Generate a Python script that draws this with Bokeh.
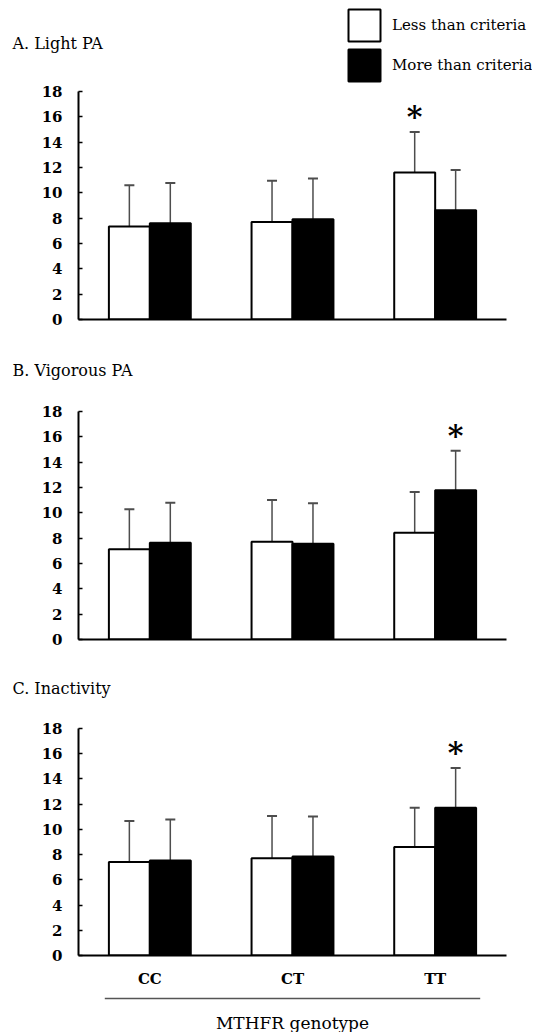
from bokeh.plotting import figure
from bokeh.layouts import column
from bokeh.models import (Range1d, ColumnDataSource, Whisker, TeeHead, Legend,
                          LegendItem, FixedTicker)
from bokeh.core.properties import value
from bokeh.embed import file_html
from bokeh.resources import INLINE

# ---------------- data ----------------
genotypes = ["CC", "CT", "TT"]
series_labels = ["Less than criteria", "More than criteria"]
panel_titles = ["A. Light PA", "B. Vigorous PA", "C. Inactivity"]
x_axis_title = "MTHFR genotype"
y_ticks = [0, 2, 4, 6, 8, 10, 12, 14, 16, 18]

light_less_mean = [7.34, 7.70, 11.60]
light_less_sd = [3.26, 3.25, 3.20]
light_more_mean = [7.60, 7.92, 8.63]
light_more_sd = [3.17, 3.21, 3.17]

vig_less_mean = [7.12, 7.72, 8.43]
vig_less_sd = [3.16, 3.30, 3.22]
vig_more_mean = [7.64, 7.56, 11.79]
vig_more_sd = [3.16, 3.20, 3.11]

inact_less_mean = [7.41, 7.72, 8.60]
inact_less_sd = [3.25, 3.34, 3.12]
inact_more_mean = [7.54, 7.86, 11.72]
inact_more_sd = [3.25, 3.17, 3.15]

# significant bar per panel: (genotype, series index)
significant = [("TT", 0), ("TT", 1), ("TT", 1)]

panels_data = [
    (light_less_mean, light_less_sd, light_more_mean, light_more_sd),
    (vig_less_mean, vig_less_sd, vig_more_mean, vig_more_sd),
    (inact_less_mean, inact_less_sd, inact_more_mean, inact_more_sd),
]

# ---------------- style / layout ----------------
FONT = "DejaVu Serif"
FIG_W = 532
B_LEFT = 78
B_RIGHT = 26
BAR_W = 0.287
ERR_COLOR = "#4d4d4d"
STAR_GAP = 1.2
# header strips: (height, title y)
headers = [(83, 43), (60, 30), (58, 28)]
# chart panels: (height, border_top, border_bottom)
specs = [(257, 8, 21), (260, 11, 21), (272, 10, 34)]

centers = [i + 0.5 for i in range(len(genotypes))]
offsets = [-BAR_W / 2, BAR_W / 2]
fills = ["white", "black"]


def header(title, h, ty, legend_sources=None):
    hp = figure(width=FIG_W, height=h, output_backend="svg", toolbar_location=None,
                x_range=Range1d(0, FIG_W), y_range=Range1d(h, 0),
                x_axis_location=None, y_axis_location=None,
                min_border_left=0, min_border_right=0,
                min_border_top=0, min_border_bottom=0, frame_align=False)
    hp.grid.visible = False
    hp.outline_line_color = None
    hp.text(x=[12], y=[ty], text=[title], text_align="left", text_baseline="middle",
            text_font=value(FONT), text_font_size="16px", text_color="black")
    if legend_sources is not None:
        # legend keys reuse panel A's bar data; the renderers themselves are hidden
        hp.extra_x_ranges = {"hidden": Range1d(10, 11)}
        hp.extra_y_ranges = {"hidden": Range1d(10, 11)}
        rs = [hp.vbar(x="x", top="top", bottom=0, width=BAR_W, source=legend_sources[i],
                      fill_color=fills[i], line_color="black", line_width=2,
                      x_range_name="hidden", y_range_name="hidden", visible=False)
              for i in range(2)]
        legend = Legend(items=[LegendItem(label=series_labels[i], renderers=[rs[i]])
                               for i in range(2)],
                        location=(344, -2), orientation="vertical",
                        glyph_width=40, glyph_height=40, spacing=0, padding=0,
                        margin=0, label_standoff=8, border_line_color=None,
                        background_fill_alpha=0, label_text_font=FONT,
                        label_text_font_size="15px", label_text_color="black",
                        label_text_baseline="middle", click_policy="none")
        hp.add_layout(legend)
    return hp


figs = []
x_range = Range1d(0, len(genotypes))
for k, (title, (lm, ls, mm, ms), (h, bt, bb), (hh, ty)) in enumerate(
        zip(panel_titles, panels_data, specs, headers)):
    sources = []
    for s, (means, sds) in enumerate([(lm, ls), (mm, ms)]):
        xs = [c + offsets[s] for c in centers]
        sources.append(ColumnDataSource(dict(
            x=xs, top=means, upper=[m + d for m, d in zip(means, sds)])))

    figs.append(header(title, hh, ty, legend_sources=sources if k == 0 else None))

    p = figure(width=FIG_W, height=h, output_backend="svg", toolbar_location=None,
               x_range=x_range, y_range=Range1d(0, 18),
               min_border_left=B_LEFT, min_border_right=B_RIGHT,
               min_border_top=bt, min_border_bottom=bb)
    p.outline_line_color = None
    p.grid.visible = False

    for s, src in enumerate(sources):
        p.vbar(x="x", top="top", bottom=0, width=BAR_W, source=src,
               fill_color=fills[s], line_color="black", line_width=2)
        w = Whisker(source=src, base="x", upper="upper", lower="top",
                    dimension="height", line_color=ERR_COLOR, line_width=1.5,
                    upper_head=TeeHead(size=10, line_color=ERR_COLOR, line_width=2),
                    lower_head=None)
        p.add_layout(w)

    g, s = significant[k]
    gi = genotypes.index(g)
    means, sds = [(lm, ls), (mm, ms)][s]
    star_src = ColumnDataSource(dict(x=[centers[gi] + offsets[s]],
                                     y=[means[gi] + sds[gi] + STAR_GAP], t=["*"]))
    p.text(x="x", y="y", text="t", source=star_src, text_align="center",
           text_baseline="middle", text_font=value(FONT), text_font_size="30px",
           text_font_style="bold", text_color="black")

    # y axis
    p.yaxis.ticker = FixedTicker(ticks=y_ticks)
    p.yaxis.axis_line_width = 2
    p.yaxis.axis_line_color = "black"
    p.yaxis.major_tick_in = 4
    p.yaxis.major_tick_out = 0
    p.yaxis.major_tick_line_width = 1.5
    p.yaxis.minor_tick_line_color = None
    p.yaxis.major_label_text_font = FONT
    p.yaxis.major_label_text_font_size = "15px"
    p.yaxis.major_label_text_font_style = "bold"
    p.yaxis.major_label_text_color = "black"
    p.yaxis.major_label_standoff = 16

    # x axis
    p.xaxis.axis_line_width = 2
    p.xaxis.axis_line_color = "black"
    p.xaxis.major_tick_line_color = None
    p.xaxis.minor_tick_line_color = None
    p.xaxis.major_tick_in = 0
    p.xaxis.major_tick_out = 0
    if k == len(panel_titles) - 1:
        p.xaxis.ticker = FixedTicker(ticks=centers)
        p.xaxis.major_label_overrides = {c: g for c, g in zip(centers, genotypes)}
        p.xaxis.major_label_text_font = FONT
        p.xaxis.major_label_text_font_size = "15px"
        p.xaxis.major_label_text_font_style = "bold"
        p.xaxis.major_label_text_color = "black"
        p.xaxis.major_label_standoff = 14
    else:
        p.xaxis.ticker = FixedTicker(ticks=[])
        p.xaxis.major_label_standoff = 0
    figs.append(p)

# bottom strip: bracket line and axis title
pf = figure(width=FIG_W, height=42, output_backend="svg", toolbar_location=None,
            x_range=x_range, y_range=Range1d(42, 0),
            x_axis_location=None, y_axis_location=None,
            min_border_left=B_LEFT, min_border_right=B_RIGHT,
            min_border_top=0, min_border_bottom=0)
pf.grid.visible = False
pf.outline_line_color = None
x0 = centers[0] - BAR_W * 1.1
x1 = centers[-1] + BAR_W * 1.1
pf.segment(x0=[x0], y0=[8], x1=[x1], y1=[8], line_color="#555555", line_width=1.5)
pf.text(x=[sum(centers) / len(centers)], y=[32], text=[x_axis_title],
        text_align="center", text_baseline="middle", text_font=value(FONT),
        text_font_size="17px", text_color="black")
figs.append(pf)

layout = column(*figs, spacing=0)
open("out.html", "w").write(file_html(layout, INLINE))
